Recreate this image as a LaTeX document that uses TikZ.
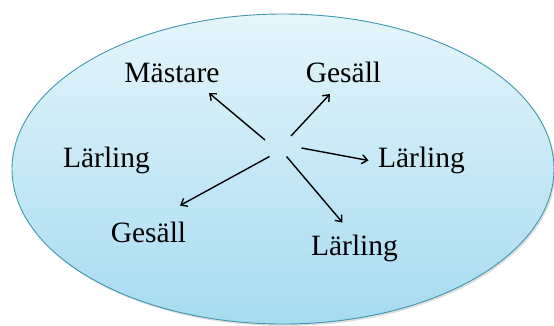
\documentclass[tikz,border=0pt]{standalone}
\usepackage{fontspec}
\setmainfont{Liberation Serif}
\newfontfamily\lblfont{Liberation Serif}
\usetikzlibrary{arrows.meta}
\definecolor{rimcol}{HTML}{3F97AD}
\definecolor{topfill}{HTML}{E5F5FB}
\definecolor{botfill}{HTML}{A6DBF0}
\tikzset{
  lbl/.style={anchor=base, inner sep=0pt, font=\lblfont\fontsize{29.5}{32}\selectfont, text=black},
  arr/.style={line width=1.4pt, -{Straight Barb[length=5.5pt,width=9pt,line width=1.4pt]}},
}
\begin{document}
\begin{tikzpicture}[x=1pt,y=-1pt]
\useasboundingbox (0,0) rectangle (554,325);
\fill[white] (0,0) rectangle (554,325);
% soft shadow
\fill[black!25, opacity=0.5] (284.5,171) ellipse [x radius=271, y radius=155];
\shade[top color=topfill, bottom color=botfill, draw=rimcol, line width=0.9pt]
  (283,169) ellipse [x radius=271, y radius=155];
% labels
\node[lbl] (mast) at (172,82) {Mästare};
\node[lbl] (gesT) at (343.5,82) {Gesäll};
\node[lbl] (larL) at (106.5,167) {Lärling};
\node[lbl] (larR) at (421.5,167) {Lärling};
\node[lbl] (gesB) at (148.5,242) {Gesäll};
\node[lbl] (larB) at (354.5,255) {Lärling};
% arrow ends
\coordinate (s1) at (265,140);   \coordinate (e1) at (209,93);
\coordinate (s2) at (291,136);   \coordinate (e2) at (330,94);
\coordinate (s3) at (301.5,148); \coordinate (e3) at (368.5,160.5);
\coordinate (s4) at (269.5,156.5); \coordinate (e4) at (180,205.5);
\coordinate (s5) at (286.5,156.5); \coordinate (e5) at (342.5,222.5);
\draw[arr] (s1) -- (e1);
\draw[arr] (s2) -- (e2);
\draw[arr] (s3) -- (e3);
\draw[arr] (s4) -- (e4);
\draw[arr] (s5) -- (e5);
\end{tikzpicture}
\end{document}
